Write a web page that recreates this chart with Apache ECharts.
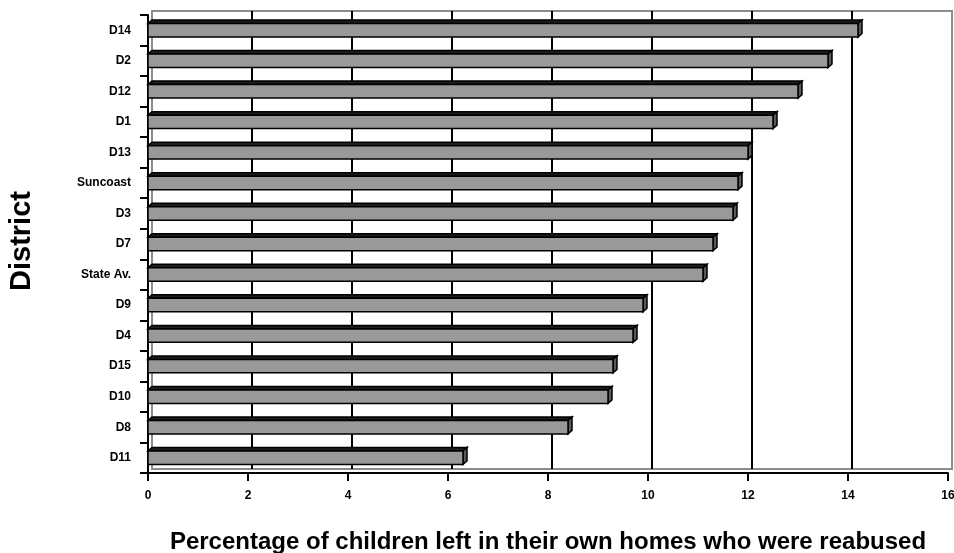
<!DOCTYPE html>
<html>
<head>
<meta charset="utf-8">
<script src="https://cdn.jsdelivr.net/npm/echarts@6/dist/echarts.min.js"></script>
<style>
  html, body { margin: 0; padding: 0; background: #ffffff; }
  #chart { width: 954px; height: 553px; }
</style>
</head>
<body>
<div id="chart"></div>
<script>
// Districts, top to bottom
const districts = ['D14', 'D2', 'D12', 'D1', 'D13', 'Suncoast', 'D3', 'D7', 'State Av.', 'D9', 'D4', 'D15', 'D10', 'D8', 'D11'];
// Percentage of children left in their own homes who were reabused
const reabusePct = [14.2, 13.6, 13.0, 12.5, 12.0, 11.8, 11.7, 11.3, 11.1, 9.9, 9.7, 9.3, 9.2, 8.4, 6.3];
// Value axis range and tick step
const xMin = 0;
const xMax = 16;
const xStep = 2;

const FONT = '"Liberation Sans", Arial, sans-serif';
const DEPTH_X = 4;   // 3D depth offset of walls and bars
const DEPTH_Y = 4;

// Draws each bar as a front face plus a top and a right face
function renderBar(params, api) {
  const val = api.value(0);
  const cat = api.value(1);
  const start = api.coord([xMin, cat]);
  const end = api.coord([val, cat]);
  const band = api.size([0, 1])[1];
  const h = band * 0.44;
  const x0 = start[0], x1 = end[0];
  const yT = start[1] - h / 2, yB = start[1] + h / 2;
  const dx = DEPTH_X, dy = DEPTH_Y - 0.5;
  const stroke = { stroke: '#000000', lineWidth: 1.5, lineJoin: 'miter' };
  return {
    type: 'group',
    children: [
      {
        type: 'polygon',
        shape: { points: [[x0, yT], [x0 + dx, yT - dy], [x1 + dx, yT - dy], [x1, yT]] },
        style: Object.assign({ fill: '#1e1e1e' }, stroke)
      },
      {
        type: 'polygon',
        shape: { points: [[x1, yT], [x1 + dx, yT - dy], [x1 + dx, yB - dy], [x1, yB]] },
        style: Object.assign({ fill: '#5a5a5a' }, stroke)
      },
      {
        type: 'rect',
        shape: { x: x0, y: yT, width: x1 - x0, height: yB - yT },
        style: Object.assign({ fill: '#999999' }, stroke)
      }
    ]
  };
}

const chart = echarts.init(document.getElementById('chart'), null, { renderer: 'canvas' });

const frontGrid = { left: 148, right: 6, top: 15, bottom: 80 };
const backGrid = {
  left: frontGrid.left + DEPTH_X,
  right: frontGrid.right - DEPTH_X,
  top: frontGrid.top - DEPTH_Y,
  bottom: frontGrid.bottom + DEPTH_Y
};

chart.setOption({
  animation: false,
  backgroundColor: '#ffffff',
  grid: [
    Object.assign({ show: true, backgroundColor: '#ffffff', borderColor: '#8c8c8c', borderWidth: 2, outerBoundsMode: 'none', containLabel: false }, backGrid),
    Object.assign({ show: false, outerBoundsMode: 'none', containLabel: false }, frontGrid)
  ],
  xAxis: [
    {
      gridIndex: 0, type: 'value', min: xMin, max: xMax, interval: xStep,
      axisLine: { show: false }, axisTick: { show: false }, axisLabel: { show: false },
      splitLine: { show: true, showMinLine: false, showMaxLine: false, lineStyle: { color: '#000000', width: 2 } }
    },
    {
      gridIndex: 1, type: 'value', min: xMin, max: xMax, interval: xStep,
      name: 'Percentage of children left in their own homes who were reabused',
      nameLocation: 'middle', nameGap: 57,
      nameTextStyle: { fontFamily: FONT, fontWeight: 'bold', fontSize: 24, color: '#000000' },
      axisLine: { show: true, lineStyle: { color: '#000000', width: 2 } },
      axisTick: { show: true, length: 8, lineStyle: { color: '#000000', width: 2 } },
      axisLabel: { margin: 17, fontFamily: FONT, fontWeight: 'bold', fontSize: 12, color: '#000000' },
      splitLine: { show: false }
    }
  ],
  yAxis: [
    {
      gridIndex: 0, type: 'category', data: districts, inverse: true,
      axisLine: { show: false }, axisTick: { show: false }, axisLabel: { show: false }, splitLine: { show: false }
    },
    {
      gridIndex: 1, type: 'category', data: districts, inverse: true,
      name: 'District', nameLocation: 'middle', nameGap: 112,
      nameTextStyle: { fontFamily: FONT, fontWeight: 'bold', fontSize: 29, color: '#000000', padding: [0, 0, 0, 6] },
      axisLine: { show: true, lineStyle: { color: '#000000', width: 2 } },
      axisTick: { show: true, length: 8, lineStyle: { color: '#000000', width: 2 } },
      axisLabel: { margin: 17, fontFamily: FONT, fontWeight: 'bold', fontSize: 12, color: '#000000' },
      splitLine: { show: false }
    }
  ],
  series: [
    {
      type: 'custom',
      xAxisIndex: 1,
      yAxisIndex: 1,
      renderItem: renderBar,
      encode: { x: 0, y: 1 },
      data: reabusePct.map((v, i) => [v, i]),
      z: 3
    }
  ]
});
</script>
</body>
</html>
